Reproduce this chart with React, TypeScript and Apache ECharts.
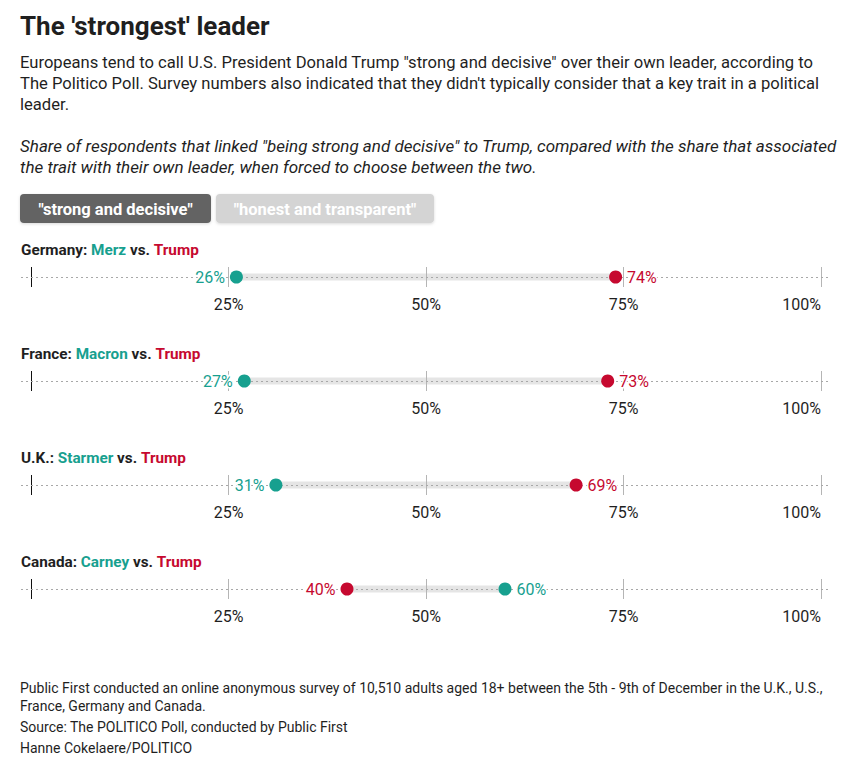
import React, { useEffect, useRef } from "react";
import * as echarts from "echarts";

const countries = ["Germany", "France", "U.K.", "Canada"];
const leaders = ["Merz", "Macron", "Starmer", "Carney"];
const leaderValues = [26, 27, 31, 60];
const trumpValues = [74, 73, 69, 40];
const tickValues = [0, 25, 50, 75, 100];

const titleText = "The 'strongest' leader";
const subtitleLines = [
  "Europeans tend to call U.S. President Donald Trump \"strong and decisive\" over their own leader, according to",
  "The Politico Poll. Survey numbers also indicated that they didn't typically consider that a key trait in a political",
  "leader.",
];
const noteLines = [
  "Share of respondents that linked \"being strong and decisive\" to Trump, compared with the share that associated",
  "the trait with their own leader, when forced to choose between the two.",
];
const buttonLabels = ["\"strong and decisive\"", "\"honest and transparent\""];
const footerLines = [
  "Public First conducted an online anonymous survey of 10,510 adults aged 18+ between the 5th - 9th of December in the U.K., U.S.,",
  "France, Germany and Canada.",
  "Source: The POLITICO Poll, conducted by Public First",
  "Hanne Cokelaere/POLITICO",
];

const TEAL = "#17a08f";
const RED = "#c6092f";
const INK = "#1f1f1f";
const FONT = "Roboto, 'Noto Sans', sans-serif";

export default function App() {
  const ref = useRef<HTMLDivElement>(null);
  useEffect(() => {
    document.body.style.margin = "0";
    if (!ref.current) return;
    const chart = echarts.init(ref.current, null, { renderer: "svg" });

    const panelTop = 267;
    const panelStep = 104;
    const axisLeft = 31;
    const axisRight = 26;

    const grids: any[] = [];
    const xAxes: any[] = [];
    const yAxes: any[] = [];
    const series: any[] = [];
    const graphics: any[] = [];

    graphics.push({
      type: "text",
      x: 20,
      y: 26,
      style: { text: titleText, fontSize: 26, fontWeight: "bold", fontFamily: FONT, fill: INK, verticalAlign: "middle" },
    });
    subtitleLines.forEach((t, i) => {
      graphics.push({
        type: "text",
        x: 20,
        y: 62 + i * 21,
        style: { text: t, fontSize: 16.6, fontFamily: FONT, fill: INK, verticalAlign: "middle" },
      });
    });
    noteLines.forEach((t, i) => {
      graphics.push({
        type: "text",
        x: 20,
        y: 146 + i * 21,
        style: { text: t, fontSize: 17, fontStyle: "italic", fontFamily: FONT, fill: INK, verticalAlign: "middle" },
      });
    });
    const btnX = [20, 216];
    const btnW = [191, 218];
    const btnFill = ["#646464", "#d4d4d4"];
    buttonLabels.forEach((t, i) => {
      graphics.push({
        type: "rect",
        shape: { x: btnX[i], y: 194, width: btnW[i], height: 29, r: 4 },
        style: { fill: btnFill[i], shadowBlur: 3, shadowColor: "rgba(0,0,0,0.15)", shadowOffsetY: 1 },
      });
      graphics.push({
        type: "text",
        x: btnX[i] + btnW[i] / 2,
        y: 209,
        style: { text: t, fontSize: 16.5, fontWeight: "bold", fontFamily: FONT, fill: "#ffffff", align: "center", verticalAlign: "middle" },
      });
    });
    footerLines.forEach((t, i) => {
      graphics.push({
        type: "text",
        x: 20,
        y: [688, 706, 727, 748][i],
        style: { text: t, fontSize: 14, fontFamily: FONT, fill: INK, verticalAlign: "middle" },
      });
    });

    countries.forEach((c, i) => {
      const top = panelTop + i * panelStep;
      const mid = top + 10;
      graphics.push({
        type: "text",
        x: 21,
        y: top - 17,
        style: {
          text: `{k|${c}: }{l|${leaders[i]}}{k| vs. }{t|Trump}`,
          verticalAlign: "middle",
          rich: {
            k: { fontSize: 15.3, fontWeight: "bold", fontFamily: FONT, fill: INK },
            l: { fontSize: 15.3, fontWeight: "bold", fontFamily: FONT, fill: TEAL },
            t: { fontSize: 15.3, fontWeight: "bold", fontFamily: FONT, fill: RED },
          },
        },
      });
      graphics.push({
        type: "line",
        z: 3,
        shape: { x1: 21, y1: mid + 0.5, x2: 830, y2: mid + 0.5 },
        style: { stroke: "#a8a8a8", lineWidth: 1, lineDash: [2, 3] },
      });

      grids.push({ left: axisLeft, right: axisRight, top, height: 20 });
      xAxes.push({
        type: "value",
        gridIndex: i,
        min: tickValues[0],
        max: tickValues[tickValues.length - 1],
        interval: 25,
        z: 2,
        axisLine: { show: false },
        axisTick: { show: false },
        splitLine: {
          show: true,
          showMinLine: true,
          showMaxLine: true,
          lineStyle: { color: ["#111111", "#b5b5b5", "#b5b5b5", "#b5b5b5", "#b5b5b5"], width: 1 },
        },
        axisLabel: {
          margin: 9,
          fontSize: 16,
          fontFamily: FONT,
          color: INK,
          alignMaxLabel: "right",
          formatter: (v: number) => (v === 0 ? "" : `${v}%`),
        },
      });
      yAxes.push({ type: "value", gridIndex: i, min: -1, max: 1, show: false });

      const lv = leaderValues[i];
      const tv = trumpValues[i];
      series.push({
        type: "line",
        xAxisIndex: i,
        yAxisIndex: i,
        z: 1,
        symbol: "none",
        silent: true,
        lineStyle: { color: "#e5e5e5", width: 7, cap: "butt" },
        data: [
          [lv, 0],
          [tv, 0],
        ],
      });
      const mk = (v: number, color: string, leftSide: boolean) => ({
        type: "scatter",
        xAxisIndex: i,
        yAxisIndex: i,
        z: 10,
        symbolSize: 13,
        itemStyle: { color, opacity: 1 },
        label: {
          show: true,
          position: leftSide ? "left" : "right",
          distance: 5,
          fontSize: 16,
          fontFamily: FONT,
          color,
          textBorderColor: "#ffffff",
          textBorderWidth: 3,
          formatter: (p: any) => `${p.value[0]}%`,
        },
        data: [[v, 0]],
      });
      series.push(mk(lv, TEAL, lv < tv));
      series.push(mk(tv, RED, tv < lv));
    });

    chart.setOption({
      animation: false,
      backgroundColor: "#ffffff",
      grid: grids,
      xAxis: xAxes,
      yAxis: yAxes,
      series,
      graphic: graphics,
    });
    return () => chart.dispose();
  }, []);
  return <div ref={ref} style={{ width: 847, height: 769 }} />;
}
